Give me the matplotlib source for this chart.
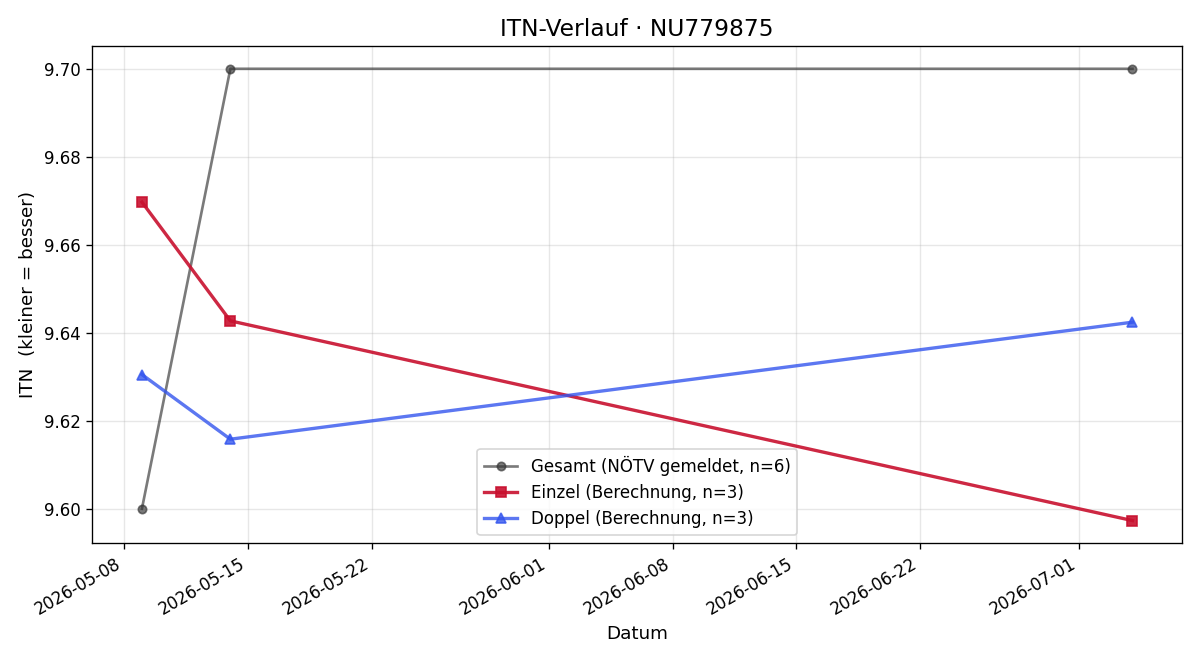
import numpy as np
import pandas as pd
import matplotlib
matplotlib.use('Agg')
import matplotlib.pyplot as plt

# data
dates_gesamt = pd.to_datetime(['2026-05-09', '2026-05-14', '2026-07-04'])
itn_gesamt = [9.60, 9.70, 9.70]

dates_einzel = pd.to_datetime(['2026-05-09', '2026-05-14', '2026-07-04'])
itn_einzel = [9.6697, 9.6427, 9.5973]

dates_doppel = pd.to_datetime(['2026-05-09', '2026-05-14', '2026-07-04'])
itn_doppel = [9.6305, 9.6158, 9.6424]

player = 'NU779875'

#%%
fig, ax = plt.subplots(figsize=(10, 5.5), dpi=120)

ax.plot(dates_gesamt, itn_gesamt, color='#333333', alpha=0.65, marker='o', ms=5, lw=1.6,
        label='Gesamt (NÖTV gemeldet, n=6)')
ax.plot(dates_einzel, itn_einzel, color='#c8102e', alpha=0.9, marker='s', ms=6, lw=2,
        label='Einzel (Berechnung, n=3)')
ax.plot(dates_doppel, itn_doppel, color='#3355ee', alpha=0.8, marker='^', ms=6, lw=2,
        label='Doppel (Berechnung, n=3)')

ax.set_title(f'ITN-Verlauf · {player}', fontsize=14)
ax.set_xlabel('Datum', fontsize=11)
ax.set_ylabel('ITN  (kleiner = besser)', fontsize=11)
ax.grid(True, alpha=0.3)
ax.tick_params(labelsize=10)
ax.legend(loc='lower center', fontsize=10)
fig.autofmt_xdate()
fig.subplots_adjust(left=0.077, right=0.985, top=0.930, bottom=0.177)

fig.savefig('out.png', dpi=120)
